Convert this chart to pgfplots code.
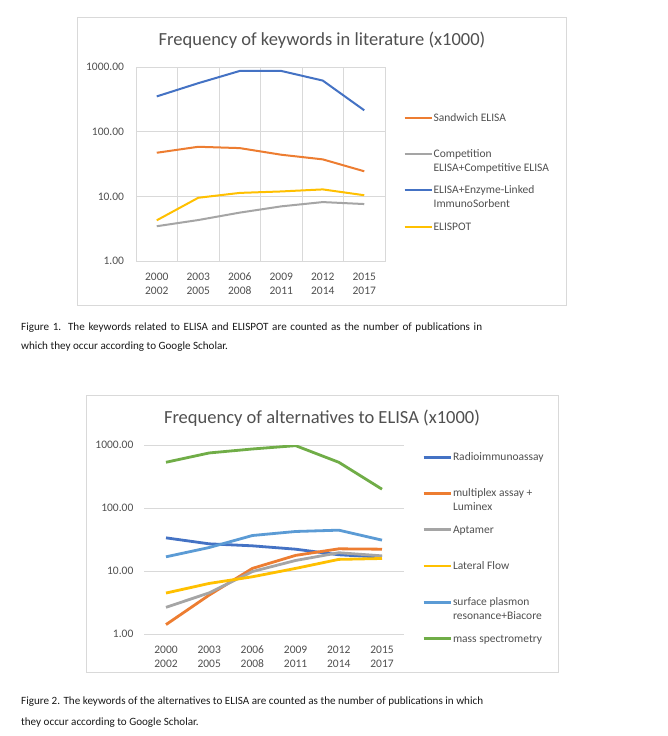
\documentclass[border=0pt]{standalone}
\usepackage{pgfplots}
\pgfplotsset{compat=1.18}
\usepackage{fontspec}
\setmainfont{Carlito}

\definecolor{xblue}{HTML}{4472C4}
\definecolor{xorange}{HTML}{ED7D31}
\definecolor{xgray}{HTML}{A5A5A5}
\definecolor{xyellow}{HTML}{FFC000}
\definecolor{xlblue}{HTML}{5B9BD5}
\definecolor{xgreen}{HTML}{70AD47}
\definecolor{gridgray}{HTML}{D9D9D9}
\definecolor{txtgray}{HTML}{505050}

\newcommand{\two}[2]{\begin{tabular}[t]{@{}l@{}}#1\\#2\end{tabular}}

\begin{document}
\begin{tikzpicture}
\fill[white] (0pt,0pt) rectangle (667pt,-736pt);

% ---------- chart 1 ----------
\draw[gridgray, line width=0.8pt] (77pt,-17pt) rectangle (566pt,-305pt);
\node[text=txtgray, font=\fontsize{18.5}{22}\selectfont] at (322pt,-40pt) {Frequency of keywords in literature (x1000)};

\begin{axis}[
  at={(136pt,-261pt)}, anchor=south west,
  scale only axis, width=249pt, height=194pt,
  ymode=log, ymin=1, ymax=1000,
  ytick={1,10,100,1000},
  yticklabels={1.00,10.00,100.00,1000.00},
  xmin=-0.5, xmax=5.5,
  xtick={0,...,5},
  xticklabels={{2000\\2002},{2003\\2005},{2006\\2008},{2009\\2011},{2012\\2014},{2015\\2017}},
  /pgf/number format/assume math mode=true,
  tick style={draw=none},
  ymajorgrids, grid style={gridgray, line width=0.8pt},
  minor xtick={-0.5,0.5,...,5.5}, xminorgrids,
  minor grid style={gridgray, line width=0.8pt},
  axis line style={gridgray, line width=0.8pt},
  ticklabel style={font=\fontsize{11.5}{13.8}\selectfont, text=txtgray},
  xticklabel style={align=center, yshift=-8.5pt},
  yticklabel style={xshift=-8.5pt},
  every axis plot/.append style={line width=2pt},
  legend cell align=left,
  legend style={at={(1.074,0.773)}, anchor=north west,
    draw=none, fill=none, inner sep=0pt, row sep=0pt,
    font=\fontsize{11.5}{14}\selectfont, text=txtgray,
    cells={anchor=base west},
    nodes={inner xsep=1pt, inner ysep=2pt, text height=8pt, text depth=24.3pt}},
  legend image code/.code={\draw[#1] (0pt,3.5pt) -- (27pt,3.5pt);},
]
\addplot[xorange] coordinates {(0,47.2) (1,58.4) (2,55.7) (3,44.0) (4,37.3) (5,24.4)};
\addlegendentry{Sandwich ELISA}
\addplot[xgray] coordinates {(0,3.45) (1,4.3) (2,5.6) (3,7.0) (4,8.15) (5,7.6)};
\addlegendentry{\two{Competition}{ELISA+Competitive ELISA}}
\addplot[xblue] coordinates {(0,351) (1,562) (2,869) (3,869) (4,617) (5,214)};
\addlegendentry{\two{ELISA+Enzyme-Linked}{ImmunoSorbent}}
\addplot[xyellow] coordinates {(0,4.26) (1,9.5) (2,11.3) (3,11.9) (4,12.8) (5,10.4)};
\addlegendentry{ELISPOT}
\end{axis}

\node[anchor=north west, align=left, font=\fontsize{11.1}{18.5}\selectfont, text=black!90, inner sep=0pt]
  at (21pt,-323pt) {\makebox[461pt][s]{Figure 1. The keywords related to ELISA and ELISPOT are counted as the number of publications in}\\
  which they occur according to Google Scholar.};

% ---------- chart 2 ----------
\draw[gridgray, line width=0.8pt] (86pt,-395pt) rectangle (558pt,-672pt);
\node[text=txtgray, font=\fontsize{18.5}{22}\selectfont] at (322pt,-418pt) {Frequency of alternatives to ELISA (x1000)};

\begin{axis}[
  at={(144.4pt,-634pt)}, anchor=south west,
  scale only axis, width=259.2pt, height=189pt,
  ymode=log, ymin=1, ymax=1000,
  ytick={1,10,100,1000},
  yticklabels={1.00,10.00,100.00,1000.00},
  xmin=-0.5, xmax=5.5,
  xtick={0,...,5},
  xticklabels={{2000\\2002},{2003\\2005},{2006\\2008},{2009\\2011},{2012\\2014},{2015\\2017}},
  /pgf/number format/assume math mode=true,
  tick style={draw=none},
  ymajorgrids, grid style={gridgray, line width=0.8pt},
  axis line style={draw=none},
  ticklabel style={font=\fontsize{11.5}{13.8}\selectfont, text=txtgray},
  xticklabel style={align=center, yshift=-8.5pt},
  yticklabel style={xshift=-7.5pt},
  every axis plot/.append style={line width=2.8pt},
  legend cell align=left,
  legend style={at={(1.071,0.971)}, anchor=north west,
    draw=none, fill=none, inner sep=0pt, row sep=0pt,
    font=\fontsize{11.5}{14}\selectfont, text=txtgray,
    cells={anchor=base west},
    nodes={inner xsep=1pt, inner ysep=2pt, text height=8pt, text depth=24.3pt}},
  legend image code/.code={\draw[#1] (0pt,3.5pt) -- (27pt,3.5pt);},
]
\addplot[xblue] coordinates {(0,33.6) (1,27.0) (2,25.1) (3,22.2) (4,18.1) (5,16.6)};
\addlegendentry{Radioimmunoassay}
\addplot[xorange] coordinates {(0,1.41) (1,4.15) (2,11.0) (3,17.7) (4,22.5) (5,22.2)};
\addlegendentry{\two{multiplex assay +}{Luminex}}
\addplot[xgray] coordinates {(0,2.65) (1,4.5) (2,9.8) (3,14.7) (4,19.5) (5,17.4)};
\addlegendentry{Aptamer}
\addplot[xyellow] coordinates {(0,4.47) (1,6.35) (2,8.1) (3,11.0) (4,15.3) (5,15.8)};
\addlegendentry{Lateral Flow}
\addplot[xlblue] coordinates {(0,16.8) (1,23.6) (2,36.6) (3,42.4) (4,44.5) (5,30.9)};
\addlegendentry{\two{surface plasmon}{resonance+Biacore}}
\addplot[xgreen] coordinates {(0,532) (1,748) (2,865) (3,977) (4,532) (5,199)};
\addlegendentry{mass spectrometry}
\end{axis}

\node[anchor=north west, align=left, font=\fontsize{11.1}{20.7}\selectfont, text=black!90, inner sep=0pt]
  at (21pt,-697pt) {\makebox[462pt][s]{Figure 2. The keywords of the alternatives to ELISA are counted as the number of publications in which}\\
  they occur according to Google Scholar.};
\end{tikzpicture}
\end{document}
